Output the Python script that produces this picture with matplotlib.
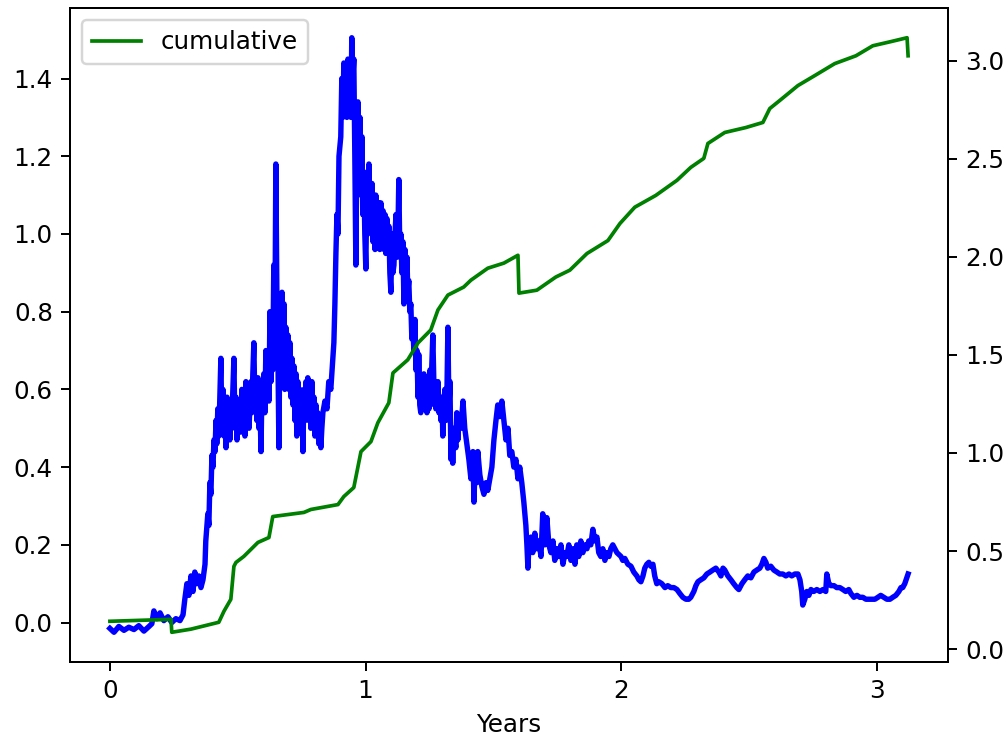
import matplotlib
matplotlib.use('Agg')
import matplotlib.pyplot as plt

# blue series (left axis), x in years
years = [
    0.000, 0.016, 0.035, 0.055, 0.074, 0.094, 0.113, 0.133, 0.153, 0.164, 0.172, 0.184, 0.196, 0.211,
    0.227, 0.242, 0.258, 0.274, 0.286, 0.293, 0.301, 0.309, 0.317, 0.325, 0.332, 0.340, 0.348, 0.356,
    0.364, 0.372, 0.375, 0.383, 0.387, 0.391, 0.395, 0.399, 0.403, 0.407, 0.411, 0.415, 0.418, 0.422,
    0.426, 0.434, 0.438, 0.442, 0.446, 0.450, 0.454, 0.458, 0.462, 0.465, 0.469, 0.473, 0.477, 0.481,
    0.485, 0.489, 0.493, 0.497, 0.501, 0.505, 0.508, 0.512, 0.516, 0.520, 0.524, 0.528, 0.532, 0.536,
    0.540, 0.544, 0.548, 0.552, 0.555, 0.559, 0.563, 0.567, 0.571, 0.575, 0.579, 0.583, 0.587, 0.591,
    0.595, 0.598, 0.602, 0.606, 0.610, 0.614, 0.618, 0.622, 0.626, 0.630, 0.634, 0.637, 0.641, 0.645,
    0.649, 0.653, 0.657, 0.661, 0.665, 0.669, 0.673, 0.677, 0.681, 0.684, 0.688, 0.692, 0.696, 0.700,
    0.704, 0.708, 0.712, 0.716, 0.720, 0.724, 0.728, 0.731, 0.735, 0.739, 0.743, 0.747, 0.751, 0.755,
    0.759, 0.763, 0.767, 0.771, 0.774, 0.778, 0.782, 0.786, 0.790, 0.794, 0.798, 0.802, 0.806, 0.810,
    0.813, 0.817, 0.821, 0.825, 0.829, 0.833, 0.841, 0.849, 0.856, 0.864, 0.872, 0.876, 0.880, 0.884,
    0.888, 0.892, 0.896, 0.903, 0.907, 0.911, 0.915, 0.919, 0.923, 0.927, 0.931, 0.935, 0.939, 0.943,
    0.946, 0.950, 0.954, 0.958, 0.962, 0.966, 0.970, 0.974, 0.978, 0.982, 0.986, 0.989, 0.993, 0.997,
    1.001, 1.005, 1.009, 1.013, 1.017, 1.021, 1.025, 1.029, 1.033, 1.037, 1.040, 1.044, 1.048, 1.052,
    1.056, 1.060, 1.064, 1.068, 1.072, 1.076, 1.079, 1.083, 1.087, 1.091, 1.095, 1.099, 1.103, 1.107,
    1.111, 1.115, 1.119, 1.123, 1.126, 1.130, 1.134, 1.138, 1.142, 1.146, 1.150, 1.154, 1.158, 1.162,
    1.165, 1.169, 1.173, 1.177, 1.181, 1.185, 1.189, 1.193, 1.197, 1.201, 1.205, 1.208, 1.212, 1.216,
    1.220, 1.224, 1.228, 1.232, 1.236, 1.240, 1.244, 1.248, 1.252, 1.255, 1.259, 1.263, 1.267, 1.271,
    1.275, 1.279, 1.283, 1.287, 1.291, 1.295, 1.299, 1.302, 1.306, 1.310, 1.314, 1.318, 1.322, 1.326,
    1.330, 1.334, 1.338, 1.341, 1.345, 1.349, 1.353, 1.357, 1.361, 1.365, 1.373, 1.381, 1.388, 1.396,
    1.404, 1.412, 1.420, 1.424, 1.428, 1.435, 1.439, 1.447, 1.455, 1.463, 1.471, 1.478, 1.486, 1.494,
    1.502, 1.510, 1.517, 1.525, 1.533, 1.541, 1.549, 1.557, 1.564, 1.572, 1.580, 1.588, 1.596, 1.603,
    1.611, 1.619, 1.627, 1.631, 1.635, 1.639, 1.647, 1.654, 1.662, 1.670, 1.678, 1.686, 1.693, 1.701,
    1.709, 1.717, 1.725, 1.733, 1.740, 1.748, 1.756, 1.764, 1.772, 1.780, 1.787, 1.795, 1.803, 1.811,
    1.819, 1.826, 1.834, 1.842, 1.850, 1.858, 1.866, 1.873, 1.881, 1.889, 1.897, 1.905, 1.912, 1.920,
    1.928, 1.936, 1.944, 1.952, 1.959, 1.967, 1.975, 1.983, 1.991, 1.999, 2.006, 2.014, 2.026, 2.038,
    2.049, 2.061, 2.069, 2.077, 2.085, 2.092, 2.100, 2.108, 2.116, 2.124, 2.131, 2.139, 2.147, 2.159,
    2.171, 2.182, 2.194, 2.206, 2.218, 2.229, 2.241, 2.253, 2.264, 2.272, 2.284, 2.292, 2.300, 2.311,
    2.323, 2.335, 2.347, 2.358, 2.370, 2.382, 2.390, 2.398, 2.405, 2.417, 2.429, 2.440, 2.452, 2.460,
    2.472, 2.483, 2.495, 2.507, 2.519, 2.530, 2.542, 2.550, 2.558, 2.566, 2.573, 2.585, 2.597, 2.609,
    2.620, 2.632, 2.644, 2.656, 2.667, 2.679, 2.691, 2.699, 2.706, 2.710, 2.718, 2.726, 2.734, 2.742,
    2.753, 2.765, 2.777, 2.789, 2.800, 2.804, 2.812, 2.820, 2.832, 2.843, 2.855, 2.867, 2.878, 2.890,
    2.898, 2.910, 2.922, 2.933, 2.945, 2.957, 2.968, 2.980, 2.992, 3.004, 3.015, 3.027, 3.039, 3.051,
    3.062, 3.074, 3.086, 3.094, 3.101, 3.109, 3.117, 3.122,
]
values = [
    -0.015, -0.025, -0.010, -0.020, -0.012, -0.018, -0.008, -0.022, -0.010, -0.003, 0.030, 0.010, 0.025, 0.005,
    0.015, 0.000, 0.010, 0.005, 0.020, 0.060, 0.100, 0.070, 0.120, 0.080, 0.130, 0.100, 0.120, 0.090,
    0.110, 0.150, 0.210, 0.280, 0.250, 0.360, 0.330, 0.430, 0.400, 0.470, 0.440, 0.520, 0.460, 0.550,
    0.480, 0.680, 0.500, 0.600, 0.480, 0.560, 0.450, 0.580, 0.500, 0.560, 0.470, 0.550, 0.520, 0.600,
    0.680, 0.500, 0.580, 0.470, 0.570, 0.500, 0.560, 0.490, 0.600, 0.520, 0.580, 0.480, 0.620, 0.530,
    0.590, 0.500, 0.560, 0.620, 0.540, 0.640, 0.720, 0.560, 0.610, 0.520, 0.630, 0.500, 0.560, 0.440,
    0.620, 0.550, 0.640, 0.540, 0.700, 0.600, 0.680, 0.570, 0.800, 0.620, 0.760, 0.650, 0.920, 0.700,
    1.180, 0.850, 0.700, 0.450, 0.760, 0.620, 0.850, 0.640, 0.820, 0.600, 0.760, 0.620, 0.740, 0.600,
    0.720, 0.580, 0.680, 0.560, 0.660, 0.520, 0.640, 0.480, 0.620, 0.540, 0.600, 0.520, 0.580, 0.440,
    0.600, 0.520, 0.620, 0.540, 0.630, 0.520, 0.600, 0.500, 0.620, 0.520, 0.580, 0.480, 0.560, 0.500,
    0.540, 0.460, 0.500, 0.450, 0.500, 0.540, 0.570, 0.550, 0.620, 0.600, 0.680, 0.720, 0.820, 0.950,
    1.050, 1.000, 1.200, 1.250, 1.400, 1.300, 1.440, 1.360, 1.400, 1.300, 1.450, 1.380, 1.420, 1.300,
    1.505, 1.400, 1.450, 1.200, 0.920, 1.250, 1.340, 1.200, 1.300, 1.100, 1.250, 1.050, 1.160, 1.000,
    0.910, 1.120, 1.000, 1.180, 1.020, 1.050, 1.130, 0.980, 1.100, 0.960, 1.100, 0.990, 1.020, 1.080,
    0.960, 1.080, 0.980, 1.060, 0.960, 1.050, 0.950, 1.040, 0.970, 1.020, 0.900, 0.850, 1.000, 0.900,
    0.920, 1.000, 1.050, 0.940, 0.980, 1.140, 0.950, 1.000, 0.900, 0.980, 0.820, 0.960, 0.880, 0.940,
    0.850, 0.880, 0.800, 0.820, 0.730, 0.760, 0.700, 0.780, 0.650, 0.700, 0.580, 0.690, 0.560, 0.540,
    0.620, 0.550, 0.640, 0.550, 0.620, 0.540, 0.600, 0.550, 0.650, 0.560, 0.660, 0.740, 0.620, 0.600,
    0.550, 0.560, 0.620, 0.540, 0.560, 0.520, 0.580, 0.480, 0.560, 0.600, 0.520, 0.580, 0.760, 0.550,
    0.620, 0.420, 0.480, 0.410, 0.500, 0.480, 0.450, 0.540, 0.470, 0.520, 0.500, 0.570, 0.500, 0.460,
    0.420, 0.370, 0.440, 0.310, 0.400, 0.360, 0.440, 0.380, 0.350, 0.330, 0.360, 0.340, 0.370, 0.400,
    0.470, 0.520, 0.560, 0.530, 0.570, 0.520, 0.470, 0.500, 0.430, 0.440, 0.400, 0.420, 0.370, 0.400,
    0.360, 0.310, 0.250, 0.200, 0.140, 0.200, 0.220, 0.180, 0.230, 0.190, 0.210, 0.170, 0.280, 0.200,
    0.270, 0.200, 0.180, 0.210, 0.160, 0.190, 0.170, 0.200, 0.150, 0.180, 0.170, 0.200, 0.160, 0.190,
    0.150, 0.200, 0.170, 0.210, 0.180, 0.200, 0.190, 0.210, 0.200, 0.240, 0.210, 0.220, 0.180, 0.170,
    0.190, 0.160, 0.180, 0.170, 0.190, 0.200, 0.190, 0.180, 0.175, 0.170, 0.160, 0.165, 0.150, 0.145,
    0.130, 0.120, 0.110, 0.105, 0.120, 0.140, 0.150, 0.155, 0.145, 0.150, 0.120, 0.100, 0.105, 0.100,
    0.090, 0.095, 0.090, 0.090, 0.085, 0.075, 0.065, 0.060, 0.060, 0.065, 0.080, 0.095, 0.105, 0.110,
    0.115, 0.125, 0.130, 0.135, 0.140, 0.130, 0.120, 0.140, 0.135, 0.120, 0.110, 0.100, 0.090, 0.085,
    0.100, 0.110, 0.120, 0.115, 0.130, 0.135, 0.140, 0.150, 0.165, 0.155, 0.140, 0.145, 0.135, 0.130,
    0.125, 0.125, 0.120, 0.125, 0.120, 0.125, 0.125, 0.110, 0.080, 0.045, 0.060, 0.080, 0.070, 0.085,
    0.080, 0.085, 0.080, 0.085, 0.080, 0.125, 0.100, 0.095, 0.095, 0.090, 0.090, 0.085, 0.080, 0.085,
    0.075, 0.065, 0.070, 0.065, 0.065, 0.060, 0.060, 0.060, 0.060, 0.065, 0.070, 0.065, 0.060, 0.060,
    0.065, 0.070, 0.080, 0.090, 0.090, 0.100, 0.115, 0.125,
]

# green cumulative series (right axis)
cum_years = [
    0.000, 0.121, 0.239, 0.242, 0.317, 0.426, 0.446, 0.473, 0.485, 0.493, 0.524, 0.579, 0.622, 0.637,
    0.759, 0.786, 0.892, 0.915, 0.954, 0.982, 1.021, 1.048, 1.091, 1.107, 1.165, 1.205, 1.255, 1.283,
    1.322, 1.384, 1.412, 1.478, 1.541, 1.596, 1.600, 1.670, 1.744, 1.799, 1.866, 1.948, 1.995, 2.053,
    2.135, 2.218, 2.272, 2.323, 2.339, 2.405, 2.487, 2.554, 2.581, 2.620, 2.691, 2.757, 2.835, 2.918,
    2.984, 3.054, 3.118, 3.122,
]
cumulative = [
    0.142, 0.147, 0.152, 0.086, 0.102, 0.137, 0.193, 0.254, 0.422, 0.442, 0.473, 0.544, 0.569, 0.676,
    0.697, 0.712, 0.737, 0.778, 0.824, 1.007, 1.058, 1.154, 1.256, 1.408, 1.475, 1.561, 1.627, 1.729,
    1.805, 1.846, 1.881, 1.942, 1.968, 2.008, 1.815, 1.830, 1.897, 1.932, 2.017, 2.083, 2.170, 2.253,
    2.313, 2.390, 2.456, 2.502, 2.578, 2.634, 2.659, 2.685, 2.756, 2.797, 2.873, 2.924, 2.985, 3.025,
    3.076, 3.097, 3.117, 3.025,
]

fig = plt.figure(figsize=(1007 / 177, 740 / 177), dpi=177)
ax = fig.add_axes([70 / 1007, 78 / 740, 878 / 1007, 654 / 740])
ax.plot(years, values, color='blue', linewidth=2.2)
ax.set_xlabel('Years')
ax.set_xticks([0, 1, 2, 3])

ax2 = ax.twinx()
ax2.plot(cum_years, cumulative, color='green', linewidth=1.5, label='cumulative')
ax2.legend(loc='upper left')

fig.savefig('out.png', dpi=177)
